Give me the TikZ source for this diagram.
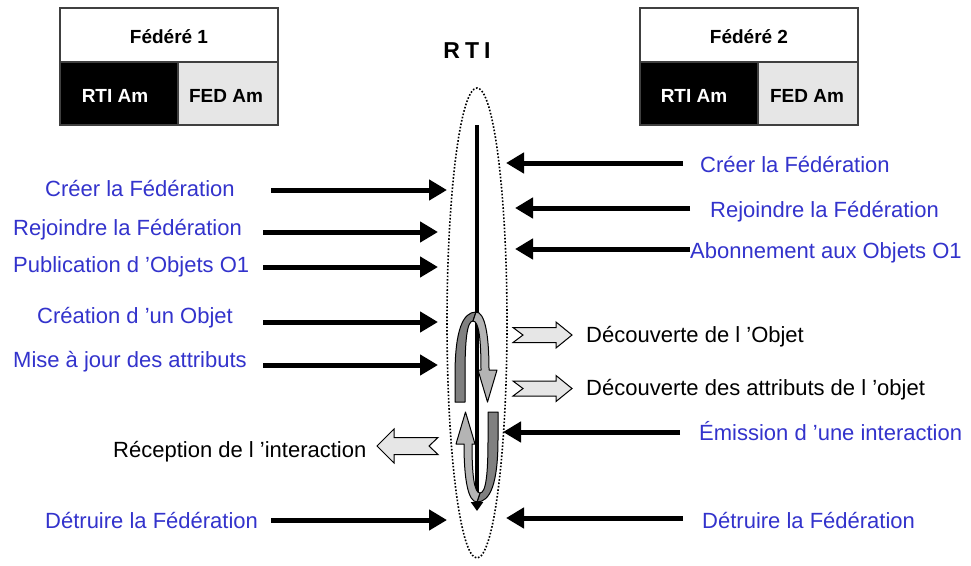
\documentclass[tikz,border=0pt]{standalone}
\usepackage{fontspec}
\setmainfont{Liberation Sans}
\usetikzlibrary{arrows.meta}
\definecolor{fedblue}{RGB}{51,51,204}
\definecolor{cellgray}{RGB}{230,230,230}
\definecolor{loopdark}{RGB}{128,128,128}
\definecolor{looplight}{RGB}{180,180,180}
\newcommand\fedloop{%
  \filldraw[fill=loopdark, draw=black, line width=1pt, line join=round]
    (-21.5,-5) -- (-21.5,-32) .. controls (-21.5,-77) and (-13.5,-95) .. (-0.5,-95)
    -- (-3.5,-86) .. controls (-9.5,-86) and (-11.5,-67) .. (-11.5,-32)
    -- (-11.5,-5) -- cycle;
  \filldraw[fill=looplight, draw=black, line width=1pt, line join=round]
    (-0.5,-95) .. controls (8.5,-95) and (12.5,-72) .. (12.5,-37)
    -- (20.5,-37) -- (11,-5) -- (1.5,-37) -- (4.5,-37)
    .. controls (4.5,-67) and (2.5,-86) .. (-3.5,-86) -- cycle;
}
\begin{document}
\begin{tikzpicture}[x=1pt,y=-1pt,
  lbl/.style={font=\fontsize{22}{26}\selectfont, text=fedblue, inner sep=0pt, anchor=base west},
  blk/.style={font=\fontsize{22}{26}\selectfont, text=black, inner sep=0pt, anchor=base west},
  hdr/.style={font=\bfseries\fontsize{19}{22}\selectfont, inner sep=0pt, anchor=base},
  msg/.style={line width=5pt, -{Triangle[length=18pt,width=20pt]}},
  cell/.style={draw=black!75, line width=1.5pt},
  blockarrow/.style={draw=black, line width=1pt, fill=cellgray, line join=miter}]
\useasboundingbox (0,0) rectangle (971,565);
\fill[white] (0,0) rectangle (971,565);

% Federe 1
\fill[white] (60,8) rectangle (278,62);
\fill[black] (60,62) rectangle (178,125);
\fill[cellgray] (178,62) rectangle (278,125);
\draw[cell] (60,8) rectangle (278,125);
\draw[cell] (60,62) -- (278,62);
\draw[cell] (178,62) -- (178,125);
\node[hdr] (f1) at (169,43) {Fédéré 1};
\node[hdr, text=white] (f1rti) at (115,102) {RTI Am};
\node[hdr] (f1fed) at (226,102) {FED Am};

% Federe 2
\fill[white] (640,8) rectangle (858,62);
\fill[black] (640,62) rectangle (758,125);
\fill[cellgray] (758,62) rectangle (858,125);
\draw[cell] (640,8) rectangle (858,125);
\draw[cell] (640,62) -- (858,62);
\draw[cell] (758,62) -- (758,125);
\node[hdr] (f2) at (749,43) {Fédéré 2};
\node[hdr, text=white] (f2rti) at (694,102) {RTI Am};
\node[hdr] (f2fed) at (807,102) {FED Am};

% RTI
\node[font=\bfseries\fontsize{23}{27}\selectfont, inner sep=0pt, anchor=base] (rti) at (467,58) {R\hspace{5pt}T\hspace{5pt}I};
\draw[line width=1.6pt, dash pattern=on 1.6pt off 1.8pt] (477,323) ellipse [x radius=30, y radius=235];
\coordinate (vtop) at (477,125);
\coordinate (vbot) at (477,511);
\draw[line width=3.5pt, -{Triangle[length=9pt,width=12pt]}] (vtop) -- (vbot);

% loops
\begin{scope}[shift={(476.5,407)}]
  \fedloop
\end{scope}
\begin{scope}[shift={(476.5,407)}, rotate=180]
  \fedloop
\end{scope}

% left messages
\node[lbl] (l1) at (45,196) {Créer la Fédération};
\node[lbl] (l2) at (13,235) {Rejoindre la Fédération};
\node[lbl] (l3) at (13,272) {Publication d ’Objets O1};
\node[lbl] (l4) at (37,323) {Création d ’un Objet};
\node[lbl] (l5) at (13,367) {Mise à jour des attributs};
\node[lbl] (l6) at (45,528) {Détruire la Fédération};
\coordinate (l1a) at (271,190); \coordinate (l1b) at (447,190);
\coordinate (l2a) at (263,232); \coordinate (l2b) at (438,232);
\coordinate (l3a) at (263,267); \coordinate (l3b) at (438,267);
\coordinate (l4a) at (263,322); \coordinate (l4b) at (438,322);
\coordinate (l5a) at (263,365); \coordinate (l5b) at (438,365);
\coordinate (l6a) at (271,520); \coordinate (l6b) at (447,520);
\draw[msg] (l1a) -- (l1b);
\draw[msg] (l2a) -- (l2b);
\draw[msg] (l3a) -- (l3b);
\draw[msg] (l4a) -- (l4b);
\draw[msg] (l5a) -- (l5b);
\draw[msg] (l6a) -- (l6b);

% right messages
\node[lbl] (r1) at (700,172) {Créer la Fédération};
\node[lbl] (r2) at (710,217) {Rejoindre la Fédération};
\node[lbl] (r3) at (690,258) {Abonnement aux Objets O1};
\node[lbl] (r4) at (699,440) {Émission d ’une interaction};
\node[lbl] (r5) at (702,528) {Détruire la Fédération};
\coordinate (r1a) at (683,163); \coordinate (r1b) at (506,163);
\coordinate (r2a) at (690,208); \coordinate (r2b) at (515,208);
\coordinate (r3a) at (690,249); \coordinate (r3b) at (515,249);
\coordinate (r4a) at (680,432); \coordinate (r4b) at (503,432);
\coordinate (r5a) at (683,518); \coordinate (r5b) at (506,518);
\draw[msg] (r1a) -- (r1b);
\draw[msg] (r2a) -- (r2b);
\draw[msg] (r3a) -- (r3b);
\draw[msg] (r4a) -- (r4b);
\draw[msg] (r5a) -- (r5b);

% callbacks (outline arrows)
\draw[blockarrow] (513,327.5) -- (556,327.5) -- (556,322) -- (572,335) -- (556,348) -- (556,342.5) -- (513,342.5) -- (523,335) -- cycle;
\draw[blockarrow] (513,381) -- (556,381) -- (556,375.5) -- (572,388.5) -- (556,401.5) -- (556,396) -- (513,396) -- (523,388.5) -- cycle;
\draw[blockarrow] (438,437.5) -- (394,437.5) -- (394,429) -- (377,446) -- (394,463) -- (394,454.5) -- (438,454.5) -- (429,446) -- cycle;
\node[blk] (c1) at (586,342) {Découverte de l ’Objet};
\node[blk] (c2) at (586,395) {Découverte des attributs de l ’objet};
\node[blk] (c3) at (113,457) {Réception de l ’interaction};
\end{tikzpicture}
\end{document}
